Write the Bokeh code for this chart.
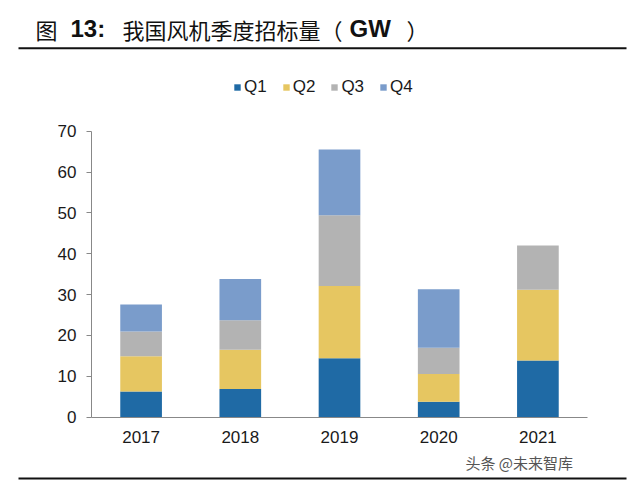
from bokeh.plotting import figure
from bokeh.models import (ColumnDataSource, Range1d, FixedTicker, Label)
from bokeh.embed import file_html
from bokeh.resources import INLINE

years = ["2017", "2018", "2019", "2020", "2021"]
q1 = [6.3, 6.9, 14.4, 3.8, 13.9]
q2 = [8.6, 9.6, 17.7, 6.8, 17.3]
q3 = [6.1, 7.2, 17.3, 6.4, 10.8]
q4 = [6.6, 10.1, 16.1, 14.3, 0.0]
series = ["Q1", "Q2", "Q3", "Q4"]
colors = ["#1f6aa5", "#e6c661", "#b3b3b3", "#7a9ccb"]
y_ticks = [0, 10, 20, 30, 40, 50, 60, 70]

W, H = 640, 481
X0, X1 = 91, 587          # plot area, px
Y0, Y70 = 416.7, 130.7    # y of 0 and 70, px
XPX = (X1 - X0) / len(years)
YPX = (Y0 - Y70) / 70.0

def xd(px):
    return (px - X0) / XPX - 0.5

def yd(py):
    return (Y0 - py) / YPX

idx = list(range(len(years)))
src = ColumnDataSource(data=dict(x=idx, Q1=q1, Q2=q2, Q3=q3, Q4=q4))

p = figure(width=W, height=H, x_range=Range1d(xd(0), xd(W)), y_range=Range1d(yd(H), yd(0)),
           output_backend="svg", toolbar_location=None,
           min_border_left=0, min_border_right=0, min_border_top=0, min_border_bottom=0)
p.outline_line_color = None
p.xgrid.grid_line_color = None
p.ygrid.grid_line_color = None
p.background_fill_color = "white"
p.border_fill_color = "white"

p.vbar_stack(series, x="x", width=0.42, color=colors, line_color=None,
             source=src, legend_label=series)

LAT = "Liberation Sans"
CJK = "Noto Sans CJK SC"

yax = p.yaxis[0]
yax.fixed_location = -0.5
yax.bounds = (0, 70)
yax.ticker = FixedTicker(ticks=y_ticks)
yax.axis_line_color = "#888888"
yax.major_tick_line_color = "#888888"
yax.major_tick_out = 5
yax.major_tick_in = 0
yax.minor_tick_line_color = None
yax.major_label_standoff = 10
yax.major_label_text_font = LAT
yax.major_label_text_font_size = "17px"
yax.major_label_text_color = "#1a1a1a"

xax = p.xaxis[0]
xax.fixed_location = 0
xax.bounds = (-0.5, len(years) - 0.5)
xax.ticker = FixedTicker(ticks=idx)
xax.major_label_overrides = {i: y for i, y in zip(idx, years)}
xax.axis_line_color = "#888888"
xax.major_tick_line_color = None
xax.minor_tick_line_color = None
xax.major_tick_out = 0
xax.major_tick_in = 0
xax.major_label_standoff = 14
xax.major_label_text_font = LAT
xax.major_label_text_font_size = "17px"
xax.major_label_text_color = "#1a1a1a"

leg = p.legend[0]
leg.orientation = "horizontal"
leg.location = (233, H - 97)
leg.glyph_width = 8
leg.glyph_height = 8
leg.label_standoff = 3
leg.spacing = 15
leg.padding = 0
leg.margin = 0
leg.border_line_color = None
leg.background_fill_alpha = 0
leg.label_text_font = LAT
leg.label_text_font_size = "17px"
leg.label_text_color = "#1a1a1a"

ty = yd(28)
p.add_layout(Label(x=xd(35), y=ty, text="图", text_font=CJK, text_font_size="22px",
                   text_baseline="middle", text_color="#111111"))
p.add_layout(Label(x=xd(70), y=ty, text="13:", text_font=LAT, text_font_size="24px",
                   text_font_style="bold", text_baseline="middle", text_color="#111111"))
p.add_layout(Label(x=xd(122), y=ty, text="我国风机季度招标量（", text_font=CJK,
                   text_font_size="22px", text_baseline="middle", text_color="#111111"))
p.add_layout(Label(x=xd(349), y=ty, text="GW", text_font=LAT, text_font_size="24px",
                   text_font_style="bold", text_baseline="middle", text_color="#111111"))
p.add_layout(Label(x=xd(406), y=ty, text="）", text_font=CJK, text_font_size="22px",
                   text_baseline="middle", text_color="#111111"))

p.segment(x0=[xd(18), xd(18)], y0=[yd(47.7), yd(478)], x1=[xd(626), xd(626)],
          y1=[yd(47.7), yd(478)], line_color="#111111", line_width=2)

p.add_layout(Label(x=xd(465), y=yd(462), text="头条 @未来智库", text_font=CJK,
                   text_font_size="15px", text_baseline="middle", text_color="#555555"))

open("out.html", "w").write(file_html(p, INLINE))
